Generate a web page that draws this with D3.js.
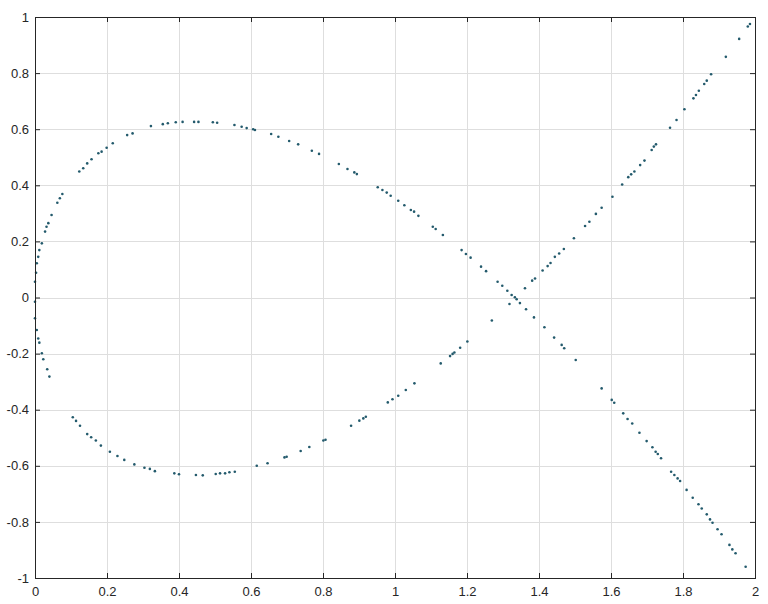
<!DOCTYPE html>
<html>
<head>
<meta charset="utf-8">
<script src="https://cdn.jsdelivr.net/npm/d3@7"></script>
<style>
  body { margin: 0; background: #fff; }
  svg { display: block; font-family: "DejaVu Sans", sans-serif; }
</style>
</head>
<body>
<svg id="chart" width="768" height="604"></svg>
<script>
// tick values / labels
const xTicks = [0, 0.2, 0.4, 0.6, 0.8, 1, 1.2, 1.4, 1.6, 1.8, 2];
const yTicks = [-1, -0.8, -0.6, -0.4, -0.2, 0, 0.2, 0.4, 0.6, 0.8, 1];

// branch going through the upper half of the loop, then down to the right
const upperX = [0, 0.003, 0.005, 0.009, 0.012, 0.019, 0.028, 0.032, 0.037, 0.046, 0.062, 0.069, 0.076,
  0.123, 0.134, 0.145, 0.157, 0.176, 0.185, 0.199, 0.216, 0.256, 0.271, 0.322, 0.355, 0.369, 0.391,
  0.410, 0.442, 0.454, 0.494, 0.506, 0.554, 0.574, 0.588, 0.606, 0.611, 0.656, 0.676, 0.706, 0.731,
  0.769, 0.789, 0.844, 0.868, 0.887, 0.894, 0.952, 0.965, 0.977, 0.988, 1.009, 1.026, 1.044, 1.053,
  1.065, 1.105, 1.113, 1.133, 1.185, 1.197, 1.210, 1.239, 1.253, 1.285, 1.298, 1.312, 1.324, 1.333,
  1.338, 1.347, 1.364, 1.386, 1.415, 1.442, 1.463, 1.470, 1.502, 1.574, 1.602, 1.609, 1.634, 1.646,
  1.659, 1.679, 1.699, 1.715, 1.724, 1.730, 1.739, 1.767, 1.776, 1.785, 1.792, 1.810, 1.827, 1.843,
  1.852, 1.866, 1.875, 1.882, 1.896, 1.907, 1.929, 1.937, 1.946, 1.974];
const upperY = [0.056, 0.088, 0.122, 0.145, 0.169, 0.193, 0.235, 0.252, 0.265, 0.294, 0.338, 0.354, 0.369,
  0.449, 0.461, 0.478, 0.493, 0.514, 0.520, 0.534, 0.550, 0.579, 0.585, 0.611, 0.618, 0.621, 0.625,
  0.626, 0.626, 0.626, 0.625, 0.623, 0.615, 0.609, 0.604, 0.600, 0.597, 0.583, 0.573, 0.558, 0.546,
  0.523, 0.512, 0.476, 0.458, 0.446, 0.440, 0.393, 0.383, 0.374, 0.363, 0.345, 0.329, 0.312, 0.306,
  0.291, 0.252, 0.244, 0.223, 0.169, 0.155, 0.142, 0.110, 0.094, 0.056, 0.042, 0.024, 0.009, 0.001,
  -0.006, -0.020, -0.042, -0.071, -0.106, -0.143, -0.169, -0.181, -0.223, -0.324, -0.365, -0.375, -0.413, -0.433,
  -0.449, -0.482, -0.512, -0.534, -0.550, -0.558, -0.573, -0.621, -0.633, -0.645, -0.654, -0.686, -0.714, -0.737,
  -0.752, -0.773, -0.791, -0.803, -0.826, -0.844, -0.882, -0.898, -0.912, -0.960];

// branch going through the lower half of the loop, then up to the right
const lowerX = [0, 0, 0.005, 0.009, 0.012, 0.019, 0.023, 0.034, 0.040, 0.105, 0.114, 0.125, 0.145,
  0.156, 0.169, 0.183, 0.208, 0.229, 0.248, 0.276, 0.304, 0.319, 0.333, 0.387, 0.400, 0.447, 0.466,
  0.502, 0.514, 0.528, 0.540, 0.555, 0.616, 0.646, 0.693, 0.699, 0.738, 0.762, 0.801, 0.807, 0.878,
  0.901, 0.912, 0.919, 0.980, 0.993, 1.009, 1.030, 1.054, 1.127, 1.153, 1.160, 1.165, 1.181, 1.201,
  1.269, 1.318, 1.361, 1.381, 1.389, 1.410, 1.424, 1.432, 1.444, 1.456, 1.469, 1.497, 1.528, 1.540,
  1.558, 1.574, 1.604, 1.631, 1.648, 1.656, 1.665, 1.681, 1.693, 1.713, 1.719, 1.725, 1.764, 1.782,
  1.804, 1.829, 1.836, 1.844, 1.859, 1.866, 1.878, 1.919, 1.956, 1.980, 1.986];
const lowerY = [-0.015, -0.074, -0.116, -0.146, -0.161, -0.199, -0.220, -0.256, -0.282, -0.427, -0.440, -0.457, -0.487,
  -0.498, -0.510, -0.528, -0.550, -0.565, -0.579, -0.595, -0.607, -0.611, -0.619, -0.627, -0.630, -0.633, -0.634,
  -0.629, -0.627, -0.627, -0.623, -0.621, -0.600, -0.591, -0.570, -0.568, -0.547, -0.533, -0.510, -0.507, -0.457,
  -0.439, -0.431, -0.425, -0.374, -0.363, -0.350, -0.330, -0.306, -0.235, -0.209, -0.201, -0.196, -0.179, -0.157,
  -0.082, -0.023, 0.033, 0.060, 0.068, 0.096, 0.112, 0.123, 0.145, 0.157, 0.173, 0.211, 0.255, 0.270,
  0.298, 0.320, 0.359, 0.403, 0.429, 0.439, 0.449, 0.472, 0.488, 0.526, 0.538, 0.546, 0.605, 0.633,
  0.671, 0.710, 0.722, 0.737, 0.761, 0.773, 0.796, 0.858, 0.922, 0.966, 0.975];

const W = 768, H = 604;
const margin = {top: 17, right: 13, bottom: 26, left: 35};
const iw = W - margin.left - margin.right;
const ih = H - margin.top - margin.bottom;

const svg = d3.select("#chart");
const g = svg.append("g").attr("transform", `translate(${margin.left},${margin.top})`);

const x = d3.scaleLinear().domain([0, 2]).range([0, iw]);
const y = d3.scaleLinear().domain([-1, 1]).range([ih, 0]);

// --- grid ---
g.append("g").selectAll("line").data(xTicks).join("line")
  .attr("x1", d => Math.round(x(d)) + 0.5).attr("x2", d => Math.round(x(d)) + 0.5)
  .attr("y1", 0).attr("y2", ih)
  .attr("stroke", "#dedede");
g.append("g").selectAll("line").data(yTicks).join("line")
  .attr("y1", d => Math.round(y(d)) + 0.5).attr("y2", d => Math.round(y(d)) + 0.5)
  .attr("x1", 0).attr("x2", iw)
  .attr("stroke", "#dedede");

// --- points ---
const pts = upperX.map((v, i) => [v, upperY[i]])
  .concat(lowerX.map((v, i) => [v, lowerY[i]]));

g.append("g").selectAll("circle").data(pts).join("circle")
  .attr("cx", d => x(d[0]))
  .attr("cy", d => y(d[1]))
  .attr("r", 1.3)
  .attr("fill", "#235a6c");

// --- axes, ticks pointing inward ---
const fmt = d => String(d);
function styleAxis(sel) {
  sel.select(".domain").remove();
  sel.selectAll("line").attr("stroke", "#262626");
  sel.selectAll("text").attr("fill", "#262626").style("font-size", "13px");
}
g.append("g").attr("transform", `translate(0,${ih})`)
  .call(d3.axisBottom(x).tickValues(xTicks).tickFormat(fmt).tickSizeInner(-5).tickPadding(9))
  .call(styleAxis);
g.append("g")
  .call(d3.axisTop(x).tickValues(xTicks).tickFormat("").tickSizeInner(-5))
  .call(styleAxis);
g.append("g")
  .call(d3.axisLeft(y).tickValues(yTicks).tickFormat(fmt).tickSizeInner(-5).tickPadding(6))
  .call(styleAxis);
g.append("g").attr("transform", `translate(${iw},0)`)
  .call(d3.axisRight(y).tickValues(yTicks).tickFormat("").tickSizeInner(-5))
  .call(styleAxis);

// box
g.append("rect")
  .attr("x", 0.5).attr("y", 0.5)
  .attr("width", iw).attr("height", ih)
  .attr("fill", "none")
  .attr("stroke", "#262626");
</script>
</body>
</html>
